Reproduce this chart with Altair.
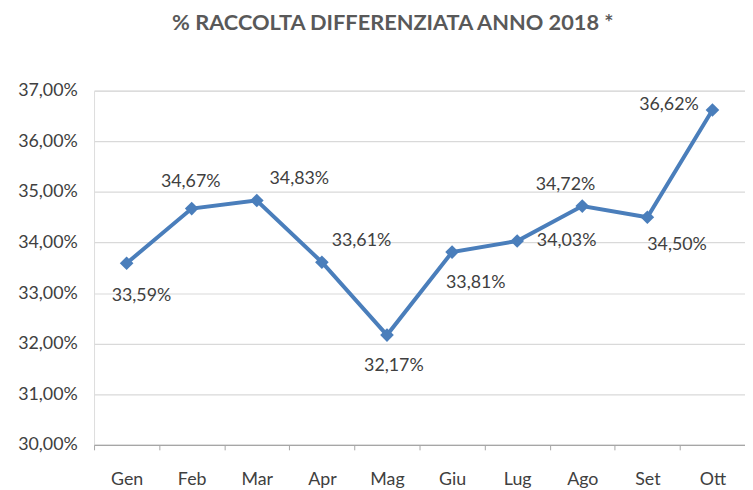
import altair as alt
import pandas as pd

# Data
months = ["Gen", "Feb", "Mar", "Apr", "Mag", "Giu", "Lug", "Ago", "Set", "Ott"]
values = [0.3359, 0.3467, 0.3483, 0.3361, 0.3217, 0.3381, 0.3403, 0.3472, 0.3450, 0.3662]

# Label placement (pixel offsets of each data label from its point) – styling only
label_dx = [15, -1, 43, 40, 7, 24, 50, -17, 30, -44]
label_dy = [33, -27, -22, -21, 31, 31, 0, -21, 28, -5]

df = pd.DataFrame({"mese": months, "valore": values})
df["etichetta"] = [f"{v*100:.2f}%".replace(".", ",") for v in values]

FONT = "Lato"
TXT = "#404040"
BLUE = "#4A7EBB"

x_enc = alt.X(
    "mese:N",
    sort=months,
    scale=alt.Scale(type="band", paddingInner=0, paddingOuter=0),
    axis=alt.Axis(
        title=None,
        labelAngle=0,
        labelFont=FONT,
        labelFontSize=18,
        labelColor=TXT,
        labelPadding=21,
        tickBand="extent",
        tickSize=5,
        tickColor="#a6a6a6",
        domainColor="#a6a6a6",
        domainWidth=1.2,
        grid=False,
    ),
)
y_enc = alt.Y(
    "valore:Q",
    scale=alt.Scale(domain=[0.30, 0.37], nice=False, zero=False),
    axis=alt.Axis(
        title=None,
        values=[0.30, 0.31, 0.32, 0.33, 0.34, 0.35, 0.36, 0.37],
        labelExpr="replace(format(datum.value, '.2%'), '.', ',')",
        labelFont=FONT,
        labelFontSize=18,
        labelColor=TXT,
        labelPadding=17,
        tickSize=0,
        domain=False,
        grid=True,
        gridColor="#d9d9d9",
        gridWidth=1.2,
    ),
)

base = alt.Chart(df)
line = base.mark_line(color=BLUE, strokeWidth=4).encode(x=x_enc, y=y_enc)
points = base.mark_point(
    shape="diamond", filled=True, size=190, color=BLUE, opacity=1
).encode(x=x_enc, y=y_enc)

labels = []
for m, dx, dy in zip(months, label_dx, label_dy):
    labels.append(
        base.transform_filter(alt.datum.mese == m)
        .mark_text(
            font=FONT, fontSize=18, color=TXT, align="center", baseline="middle", dx=dx, dy=dy
        )
        .encode(x=x_enc, y=y_enc, text="etichetta:N")
    )

chart = alt.layer(line, points, *labels).properties(
    width=658,
    height=358,
    padding={"left": 87, "top": 81, "right": 0, "bottom": 43},
    autosize=alt.AutoSizeParams(type="none"),
    title=alt.Title(
        "% RACCOLTA DIFFERENZIATA ANNO 2018 *",
        font=FONT,
        fontSize=22,
        fontWeight="bold",
        color="#595959",
        anchor="middle",
        dx=-27,
        offset=47,
    ),
).configure_view(stroke=None).configure(background="white")

chart.save("out.html", embed_options={"renderer": "svg", "actions": False})
